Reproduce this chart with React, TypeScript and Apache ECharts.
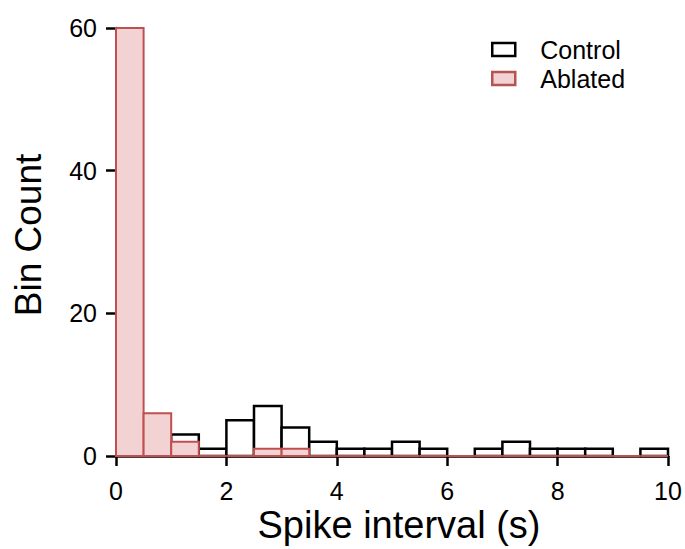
import React, { useEffect, useRef } from "react";
import * as echarts from "echarts";

const binStarts = [0, 0.5, 1, 1.5, 2, 2.5, 3, 3.5, 4, 4.5, 5, 5.5, 6, 6.5, 7, 7.5, 8, 8.5, 9, 9.5];
const binWidth = 0.5;
const controlCounts = [0, 0, 3, 1, 5, 7, 4, 2, 1, 1, 2, 1, 0, 1, 2, 1, 1, 1, 0, 1];
const ablatedCounts = [60, 6, 2, 0, 0, 1, 1, 0, 0, 0, 0, 0, 0, 0, 0, 0, 0, 0, 0, 0];
const xTicks = [0, 2, 4, 6, 8, 10];
const yTicks = [0, 20, 40, 60];
const seriesNames = ["Control", "Ablated"];

const FONT = "'Liberation Sans', Arial, sans-serif";
const RED_STROKE = "#c0504f";
const RED_FILL = "#f2d2d3";

function makeRenderItem(fill: string, stroke: string, lw: number, drawZero: boolean) {
  return (params: any, api: any) => {
    const x0 = api.value(0);
    const x1 = api.value(1);
    const v = api.value(2);
    if (!drawZero && v === 0) return { type: "group", children: [] };
    const p0 = api.coord([x0, v]);
    const p1 = api.coord([x1, 0]);
    return {
      type: "rect",
      shape: { x: p0[0], y: p0[1], width: p1[0] - p0[0], height: p1[1] - p0[1] },
      style: { fill, stroke, lineWidth: lw },
    };
  };
}

export default function App() {
  const ref = useRef<HTMLDivElement>(null);
  useEffect(() => {
    if (!ref.current) return;
    const chart = echarts.init(ref.current, null, { renderer: "svg" });
    const controlData = binStarts.map((s, i) => [s, s + binWidth, controlCounts[i]]);
    const ablatedData = binStarts.map((s, i) => [s, s + binWidth, ablatedCounts[i]]);
    chart.setOption({
      animation: false,
      backgroundColor: "#ffffff",
      textStyle: { fontFamily: FONT },
      grid: { left: 116, right: 17, top: 28, bottom: 93 },
      legend: {
        orient: "vertical",
        left: 491,
        top: 35,
        padding: 0,
        itemWidth: 23,
        itemHeight: 13,
        itemGap: 0,
        textStyle: { fontSize: 25, color: "#000", fontFamily: FONT, lineHeight: 29, padding: [0, 0, 0, 20] },
        data: [
          { name: seriesNames[0], icon: "rect", itemStyle: { color: "#ffffff", borderColor: "#000000", borderWidth: 2.5 } },
          { name: seriesNames[1], icon: "rect", itemStyle: { color: RED_FILL, borderColor: "#b55453", borderWidth: 2.5 } },
        ],
      },
      xAxis: {
        type: "value",
        min: 0,
        max: 10,
        interval: 2,
        offset: 2,
        splitLine: { show: false },
        axisLine: { show: true, lineStyle: { color: "#000", width: 2.5 } },
        axisTick: { show: true, length: 10, lineStyle: { color: "#000", width: 2.5 } },
        axisLabel: {
          fontSize: 25,
          color: "#000",
          fontFamily: FONT,
          margin: 20,
          formatter: (v: number) => (xTicks.includes(v) ? String(v) : ""),
        },
      },
      yAxis: {
        type: "value",
        min: 0,
        max: 60,
        interval: 20,
        offset: 5,
        splitLine: { show: false },
        axisLine: { show: true, lineStyle: { color: "#000", width: 2.5 } },
        axisTick: { show: true, length: 10, lineStyle: { color: "#000", width: 2.5 } },
        axisLabel: {
          fontSize: 25,
          color: "#000",
          fontFamily: FONT,
          margin: 14,
          formatter: (v: number) => (yTicks.includes(v) ? String(v) : ""),
        },
      },
      graphic: [
        {
          type: "text",
          x: 399,
          y: 525,
          style: {
            text: "Spike interval (s)",
            fontSize: 38,
            fontFamily: FONT,
            fill: "#000",
            textAlign: "center",
            textVerticalAlign: "middle",
          },
        },
        {
          type: "text",
          x: 28,
          y: 235,
          rotation: Math.PI / 2,
          style: {
            text: "Bin Count",
            fontSize: 37,
            fontFamily: FONT,
            fill: "#000",
            textAlign: "center",
            textVerticalAlign: "middle",
          },
        },
      ],
      series: [
        {
          name: seriesNames[0],
          type: "custom",
          renderItem: makeRenderItem("#ffffff", "#000000", 2.5, false),
          encode: { x: [0, 1], y: 2 },
          itemStyle: { color: "#ffffff", borderColor: "#000000", borderWidth: 2.5 },
          data: controlData,
          z: 2,
        },
        {
          name: seriesNames[1],
          type: "custom",
          renderItem: makeRenderItem(RED_FILL, RED_STROKE, 2, true),
          encode: { x: [0, 1], y: 2 },
          itemStyle: { color: RED_FILL, borderColor: RED_STROKE, borderWidth: 2 },
          data: ablatedData,
          z: 3,
        },
      ],
    });
    return () => chart.dispose();
  }, []);
  return (
    <div
      ref={ref}
      style={{ position: "fixed", left: 0, top: 0, width: 685, height: 549, background: "#fff" }}
    />
  );
}
